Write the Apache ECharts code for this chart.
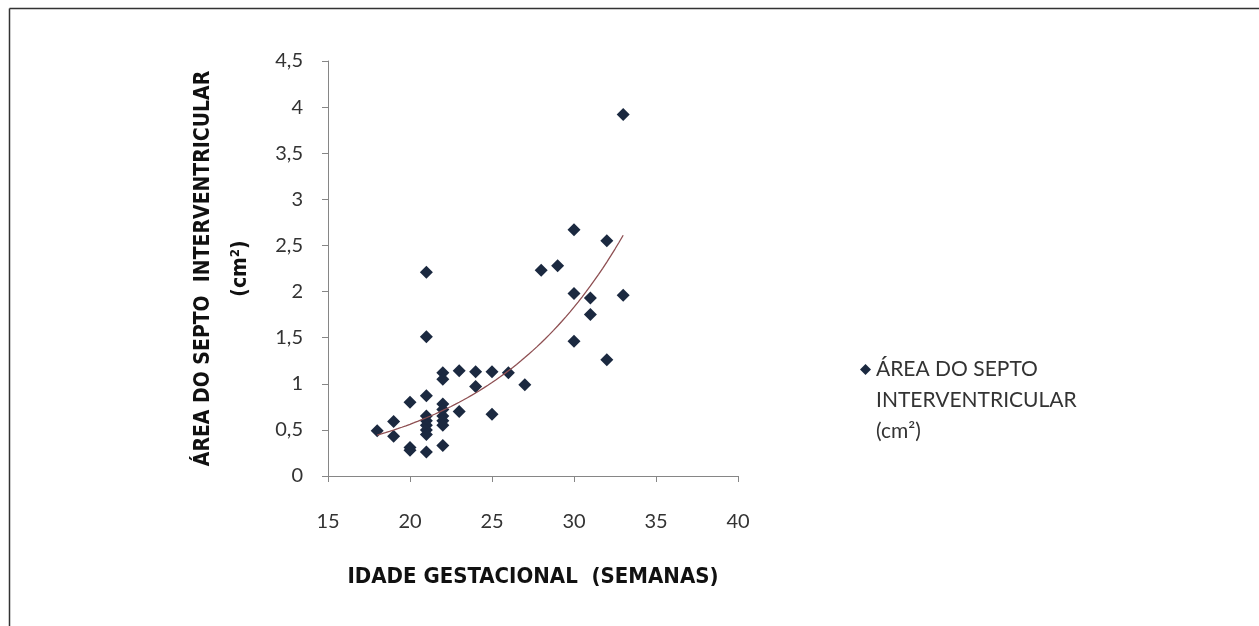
<!DOCTYPE html>
<html>
<head>
<meta charset="utf-8">
<script src="https://cdn.jsdelivr.net/npm/echarts@6/dist/echarts.min.js"></script>
<style>
html,body{margin:0;padding:0;background:#fff;}
#chart{width:1259px;height:626px;}
</style>
</head>
<body>
<div id="chart"></div>
<script>
// Gestational age (weeks)
var weeks = [18, 19, 19, 20, 20, 20,
  21, 21, 21, 21, 21, 21, 21, 21, 21,
  22, 22, 22, 22, 22, 22, 22, 22,
  23, 23, 24, 24, 25, 25, 26, 27,
  28, 29, 30, 30, 30, 31, 31, 32, 32, 33, 33];
// Interventricular septum area (cm²)
var area = [0.49, 0.59, 0.43, 0.80, 0.31, 0.28,
  2.21, 1.51, 0.87, 0.65, 0.60, 0.55, 0.50, 0.45, 0.26,
  1.12, 1.05, 0.78, 0.72, 0.65, 0.60, 0.55, 0.33,
  1.14, 0.70, 1.13, 0.97, 1.13, 0.67, 1.12, 0.99,
  2.23, 2.28, 2.67, 1.98, 1.46, 1.93, 1.75, 2.55, 1.26, 1.96, 3.92];
var xTicks = [15, 20, 25, 30, 35, 40];
var yTicks = [0, 0.5, 1, 1.5, 2, 2.5, 3, 3.5, 4, 4.5];
var seriesName = 'ÁREA DO SEPTO INTERVENTRICULAR (cm²)';
var legendLines = ['ÁREA DO SEPTO', 'INTERVENTRICULAR', '(cm²)'];

var points = weeks.map(function (w, i) { return [w, area[i]]; });

// Exponential trendline (least squares on ln y), as a spreadsheet would fit it
function expFit(xs, ys) {
  var n = xs.length, sx = 0, sy = 0, sxx = 0, sxy = 0;
  for (var i = 0; i < n; i++) {
    var ly = Math.log(ys[i]);
    sx += xs[i]; sy += ly; sxx += xs[i] * xs[i]; sxy += xs[i] * ly;
  }
  var b = (n * sxy - sx * sy) / (n * sxx - sx * sx);
  var a = Math.exp((sy - b * sx) / n);
  return {a: a, b: b};
}
var fit = expFit(weeks, area);
var xMin = Math.min.apply(null, weeks), xMax = Math.max.apply(null, weeks);
var trend = [];
for (var k = 0; k <= 60; k++) {
  var xv = xMin + (xMax - xMin) * k / 60;
  trend.push([xv, fit.a * Math.exp(fit.b * xv)]);
}

var chart = echarts.init(document.getElementById('chart'));
var labelFont = 'Lato, "Open Sans", sans-serif';
var titleFont = '"Liberation Sans Narrow", "DejaVu Sans Condensed", sans-serif';
chart.setOption({
  animation: false,
  backgroundColor: '#ffffff',
  grid: {left: 328, right: 521, top: 61, bottom: 150},
  xAxis: {
    type: 'value', min: 15, max: 40, interval: 5,
    name: 'IDADE GESTACIONAL  (SEMANAS)',
    nameLocation: 'middle', nameGap: 90,
    nameTextStyle: {fontFamily: titleFont, fontWeight: 'bold', fontSize: 22, color: '#111'},
    axisLine: {lineStyle: {color: '#868686', width: 1}},
    axisTick: {length: 6, lineStyle: {color: '#868686'}},
    splitLine: {show: false},
    axisLabel: {margin: 36, fontSize: 20, color: '#333', fontFamily: labelFont,
      formatter: function (v) { return xTicks.indexOf(v) >= 0 ? String(v) : ''; }}
  },
  yAxis: {
    type: 'value', min: 0, max: 4.5, interval: 0.5,
    name: 'ÁREA DO SEPTO  INTERVENTRICULAR\n(cm²)',
    nameLocation: 'middle', nameRotate: 90, nameGap: 69,
    nameTextStyle: {fontFamily: titleFont, fontWeight: 'bold', fontSize: 21, lineHeight: 37, color: '#111', align: 'center'},
    axisLine: {show: true, lineStyle: {color: '#868686', width: 1}},
    axisTick: {show: true, length: 6, lineStyle: {color: '#868686'}},
    splitLine: {show: false},
    axisLabel: {margin: 25, fontSize: 20, color: '#333', fontFamily: labelFont,
      formatter: function (v) { return yTicks.indexOf(v) >= 0 ? String(v).replace('.', ',') : ''; }}
  },
  legend: {
    left: 855, top: 287,
    orient: 'vertical',
    data: [{name: seriesName, icon: 'diamond'}],
    itemWidth: 11, itemHeight: 11, itemGap: 4,
    formatter: function () { return ' \n \n' + legendLines.join('\n'); },
    textStyle: {fontFamily: labelFont, fontSize: 21, color: '#333', lineHeight: 31}
  },
  graphic: [
    {type: 'line', silent: true, shape: {x1: 9.5, y1: 8.5, x2: 1259, y2: 8.5}, style: {stroke: '#333', lineWidth: 1.5}},
    {type: 'line', silent: true, shape: {x1: 9.5, y1: 8.5, x2: 9.5, y2: 626}, style: {stroke: '#333', lineWidth: 1.5}}
  ],
  series: [
    {
      name: seriesName, type: 'scatter', data: points,
      symbol: 'diamond', symbolSize: 13,
      itemStyle: {color: '#1B2940', opacity: 1}, z: 3
    },
    {
      name: 'trend', type: 'line', data: trend, showSymbol: false, smooth: false,
      lineStyle: {color: '#8E4F52', width: 1.3}, z: 4, silent: true
    }
  ]
});
</script>
</body>
</html>
